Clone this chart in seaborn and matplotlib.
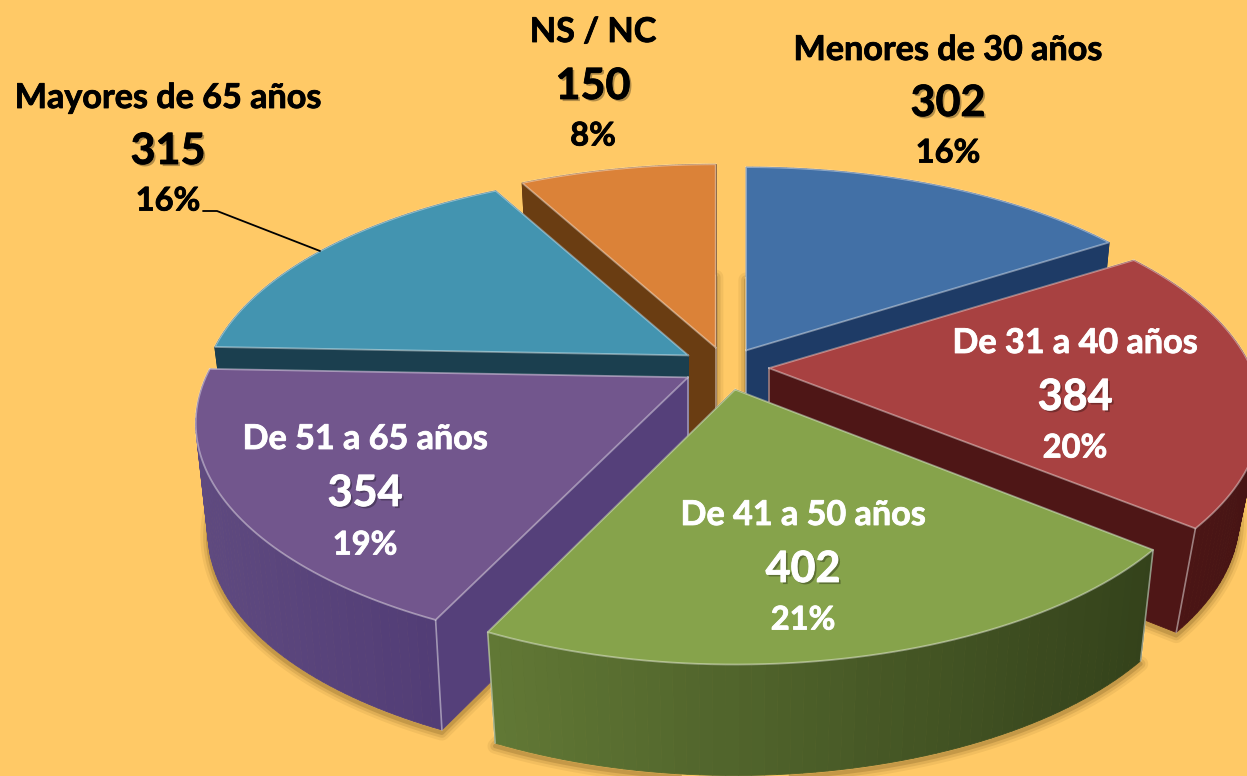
import numpy as np
import matplotlib
matplotlib.use("Agg")
import matplotlib.pyplot as plt
import matplotlib.patheffects as pe
import seaborn as sns

# ==================== data ====================
categories = ["Menores de 30 años", "De 31 a 40 años", "De 41 a 50 años",
              "De 51 a 65 años", "Mayores de 65 años", "NS / NC"]
counts = [302, 384, 402, 354, 315, 150]
percents = ["16%", "20%", "21%", "19%", "16%", "8%"]

# ==================== styles ====================
top_colors = ["#4270A6", "#A84141", "#86A34B", "#72568D", "#4394B0", "#DB8238"]
cut_colors = ["#1E3B66", "#4E1616", "#3F5020", "#55407A", "#1B3F4F", "#6A3D12"]
wall_left = ["#1E3B66", "#4E1616", "#617835", "#5F4A80", "#1B3F4F", "#6A3D12"]
wall_right = ["#1E3B66", "#461414", "#34421B", "#523D76", "#1B3F4F", "#6A3D12"]
text_colors = ["black", "white", "white", "white", "black", "black"]
# label centre x, and y of the three lines (name, number, percent)
label_pos = [(948, 50, 103, 153), (1075, 343, 397, 448), (803, 515, 569, 620),
             (365, 439, 493, 545), (168, 98, 151, 201), (593, 32, 86, 136)]
draw_order = [5, 4, 0, 1, 3, 2]
# small per-slice corrections of the width, explosion and wall height
width_scale = [1.0, 1.005, 0.985, 1.005, 0.995, 1.0]
nudge = [(0, 0), (1, -1), (0, 2), (-2, -1), (-2, -2), (0, -1)]
depths = [110, 104, 111, 110, 110, 110]
shrinks = [0.97, 0.955, 0.97, 0.975, 0.97, 0.97]

CX, CY = 726, 368      # pie centre
RX, RY, PERSP = 480, 220, 0.2
EXPL_X, EXPL_Y = 42, 20

sns.set_theme(style="white")
plt.rcParams["font.family"] = ["Lato", "DejaVu Sans"]

fig = plt.figure(figsize=(12.47, 7.76), dpi=100)
ax = fig.add_axes([0, 0, 1, 1])
fig.patch.set_facecolor("#FFC966")
ax.set_facecolor("#FFC966")
ax.set_xlim(0, 1247)
ax.set_ylim(776, 0)
ax.axis("off")

edges = np.cumsum([0] + counts) / sum(counts) * 2 * np.pi


def project(theta):
    # point on the rim of the disc, seen in perspective
    x, y = np.sin(theta), np.cos(theta)
    s = 1 / (1 + PERSP * y)
    return np.column_stack([RX * x * s, -RY * y * s])


def slice_geom(i):
    mid = (edges[i] + edges[i + 1]) / 2
    apex = np.array([CX + EXPL_X * np.sin(mid) + nudge[i][0],
                     CY - EXPL_Y * np.cos(mid) + nudge[i][1]])
    th = np.linspace(edges[i], edges[i + 1], 60)
    off = project(th) * [width_scale[i], 1]
    rim = apex + off
    rim_b = apex + off * [shrinks[i], 1] + [0, depths[i]]
    apex_b = apex + [0, depths[i]]
    return apex, rim, apex_b, rim_b


# soft shadow of every slice on the background
for i in range(len(counts)):
    apex, rim, apex_b, rim_b = slice_geom(i)
    outline = np.vstack([apex_b, rim_b]) + [0, 3]
    for lw, a in [(11, 0.08), (7, 0.12), (3, 0.2)]:
        ax.fill(outline[:, 0], outline[:, 1], fc="none", ec="#5A4010", lw=lw, alpha=a,
                joinstyle="round", zorder=1)

for z, i in enumerate(draw_order):
    apex, rim, apex_b, rim_b = slice_geom(i)
    zo = 10 + z

    # the two cut faces
    for end, end_b in [(rim[0], rim_b[0]), (rim[-1], rim_b[-1])]:
        quad = np.array([apex, end, end_b, apex_b])
        ax.fill(quad[:, 0], quad[:, 1], fc=cut_colors[i], ec=cut_colors[i], lw=0.6, zorder=zo)

    # outer wall, cut in strips so the colour can change along it
    n = len(rim) - 1
    shades = sns.blend_palette([wall_left[i], wall_right[i]], n)
    x_min, x_max = rim[:, 0].min(), rim[:, 0].max()
    for k in range(n):
        quad = np.array([rim[k], rim[k + 1], rim_b[k + 1], rim_b[k]])
        pos = (quad[:, 0].mean() - x_min) / (x_max - x_min)
        col = shades[min(int(pos * n), n - 1)]
        ax.fill(quad[:, 0], quad[:, 1], fc=col, ec=col, lw=0.6, zorder=zo)

    # light corner lines
    for end, end_b in [(apex, apex_b), (rim[0], rim_b[0]), (rim[-1], rim_b[-1])]:
        if i in (1, 2, 3) or (end is apex and i != 4):
            ax.plot([end[0], end_b[0]], [end[1], end_b[1]], color="white", alpha=0.45, lw=1.2, zorder=zo)

    # top face
    top = np.vstack([apex, rim])
    ax.fill(top[:, 0], top[:, 1], fc=top_colors[i], ec="none", zorder=zo)
    closed = np.vstack([top, apex])
    ax.plot(closed[:, 0], closed[:, 1], color="white", alpha=0.4, lw=1.3, solid_joinstyle="miter", zorder=zo)

# leader line of the outside label
ax.plot([203, 217, 320], [211, 211, 251], color="black", lw=1.3, zorder=25)

# ==================== labels ====================
for i, name in enumerate(categories):
    x, y_name, y_num, y_pct = label_pos[i]
    col = text_colors[i]
    thick = [pe.withStroke(linewidth=0.6, foreground=col)]
    ax.text(x, y_name, name, ha="center", va="center", color=col, fontsize=24.6,
            fontweight="bold", zorder=30, path_effects=thick)
    ax.text(x, y_num, str(counts[i]), ha="center", va="center", color=col, fontsize=31,
            fontweight="bold", zorder=30,
            path_effects=[pe.SimplePatchShadow(offset=(1.5, -1.5), shadow_rgbFace="black", alpha=0.3),
                          pe.withStroke(linewidth=0.6, foreground=col)])
    ax.text(x, y_pct, percents[i], ha="center", va="center", color=col, fontsize=23.5,
            fontweight="bold", zorder=30, path_effects=thick)

fig.savefig("out.png", dpi=100, facecolor=fig.get_facecolor())
plt.close(fig)
